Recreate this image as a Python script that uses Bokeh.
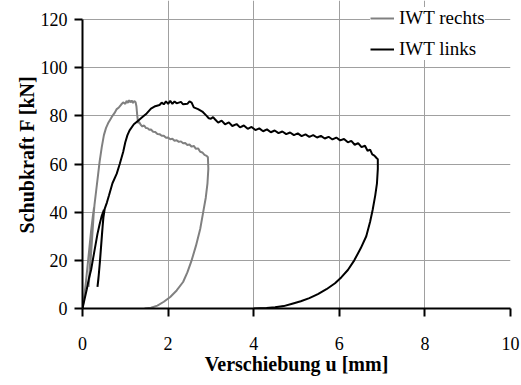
from bokeh.plotting import figure
from bokeh.models import Range1d, Legend, LegendItem, FixedTicker, Title
from bokeh.embed import file_html
from bokeh.resources import INLINE

# Shear test: force F [kN] over displacement u [mm], two specimens
rechts_u = [0.0, 0.04, 0.08, 0.12, 0.16, 0.2, 0.24, 0.27,
            0.25, 0.22, 0.19, 0.16, 0.14,
            0.16, 0.19, 0.22, 0.25, 0.28,
            0.32, 0.36, 0.4, 0.45, 0.5, 0.55, 0.6, 0.65, 0.7, 0.75, 0.8, 0.85, 0.9, 0.95,
            1.0, 1.03, 1.06, 1.09, 1.12, 1.15, 1.18, 1.21, 1.24, 1.26, 1.28, 1.3, 1.32,
            1.36, 1.4, 1.44, 1.48, 1.52, 1.56, 1.6, 1.65, 1.7, 1.75, 1.8, 1.85, 1.9, 1.95,
            2.0, 2.05, 2.1, 2.15, 2.2, 2.25, 2.3, 2.35, 2.4, 2.45, 2.5, 2.55, 2.6, 2.65,
            2.7, 2.75, 2.8, 2.85, 2.9, 2.93,
            2.94, 2.92, 2.88, 2.82, 2.75, 2.65, 2.55, 2.45, 2.35, 2.2, 2.05, 1.9, 1.75,
            1.6, 1.45]
rechts_f = [0.0, 5.0, 11.0, 18.0, 25.0, 32.0, 38.0, 42.0,
            36.0, 28.0, 20.0, 13.0, 9.0,
            14.0, 22.0, 30.0, 37.0, 43.0,
            49.0, 55.0, 61.0, 67.0, 72.0, 75.0, 77.0, 78.5, 80.0, 81.2, 82.8, 83.5, 84.6, 85.6,
            85.0, 86.2, 85.4, 86.5, 85.6, 86.4, 85.3, 86.2, 85.7, 84.0, 80.0, 77.0, 77.5,
            76.3, 75.6, 76.0, 75.0, 74.9, 74.2, 74.3, 73.4, 73.3, 72.5, 72.4, 71.7, 71.7, 70.9,
            71.0, 70.3, 70.5, 69.7, 69.9, 69.2, 69.4, 68.6, 68.7, 67.9, 68.1, 67.2, 67.5, 66.3,
            66.5, 65.1, 64.8, 63.8, 63.4, 62.8,
            58.0, 52.0, 46.0, 40.0, 33.0, 26.0, 20.0, 15.0, 11.0, 7.5, 4.8, 2.8, 1.2,
            0.3, 0.0]

links_u = [0.0, 0.05, 0.1, 0.15, 0.2, 0.25, 0.3, 0.35, 0.4, 0.45, 0.5,
           0.47, 0.44, 0.41, 0.38, 0.35,
           0.37, 0.4, 0.43, 0.46, 0.49, 0.52,
           0.57, 0.62, 0.7, 0.8, 0.87, 0.95, 1.0, 1.05, 1.1, 1.2, 1.3, 1.4, 1.5, 1.6,
           1.7, 1.8, 1.85, 1.9, 1.95, 2.0, 2.05, 2.1, 2.15, 2.2, 2.3, 2.35, 2.45, 2.5,
           2.55, 2.6, 2.7, 2.8, 2.9, 2.95, 3.0, 3.05, 3.1, 3.17, 3.25, 3.33, 3.42, 3.5,
           3.6, 3.68, 3.77, 3.86, 3.95, 4.04, 4.13, 4.22, 4.31, 4.4, 4.49, 4.58, 4.67,
           4.76, 4.85, 4.94, 5.03, 5.12, 5.21, 5.3, 5.39, 5.48, 5.57, 5.66, 5.75, 5.84,
           5.93, 6.02, 6.11, 6.2, 6.28, 6.36, 6.44, 6.52, 6.6, 6.66, 6.72, 6.77, 6.82,
           6.87, 6.9,
           6.9, 6.88, 6.84, 6.78, 6.72, 6.63, 6.5, 6.35, 6.2, 6.05, 5.9, 5.7, 5.5, 5.3,
           5.1, 4.9, 4.7, 4.5, 4.3, 4.0]
links_f = [0.0, 4.0, 8.0, 12.5, 16.0, 21.0, 26.0, 31.0, 35.0, 38.5, 41.0,
           34.0, 27.0, 20.0, 14.0, 9.0,
           12.0, 18.0, 25.0, 32.0, 38.0, 41.5,
           44.0, 47.0, 52.0, 56.0, 60.0, 65.0, 69.0, 72.0, 74.0, 76.5, 78.0, 79.5, 81.0, 83.0,
           84.0, 84.5, 85.5, 84.8, 86.0, 85.0, 86.2, 85.0, 86.0, 85.2, 85.8, 84.8, 85.0, 86.0,
           85.5, 83.5, 82.8, 81.8, 80.0, 79.0, 78.8, 79.5, 78.5, 77.2, 78.0, 76.5, 77.3, 75.8,
           76.6, 75.2, 76.0, 74.6, 75.4, 74.1, 74.8, 73.6, 74.4, 73.2, 73.9, 72.8, 73.5,
           72.4, 73.1, 72.0, 72.7, 71.6, 72.3, 71.3, 72.0, 71.0, 71.7, 70.6, 71.3, 70.2,
           71.0, 69.8, 70.4, 69.0, 69.6, 68.0, 68.7, 67.0, 67.6, 65.5, 66.0, 64.0, 63.5,
           62.5, 62.0,
           58.0, 52.0, 47.0, 41.0, 36.0, 30.0, 25.0, 20.0, 16.0, 13.0, 10.5, 8.0, 6.0, 4.3,
           3.0, 2.0, 1.0, 0.5, 0.2, 0.0]

x_ticks = [0, 2, 4, 6, 8, 10]
y_ticks = [0, 20, 40, 60, 80, 100, 120]
series_names = ["IWT rechts", "IWT links"]
series_colors = ["#808080", "#000000"]

FONT = "'Liberation Serif'"

# frame reaches up to the top edge so the legend can sit above the 120 line;
# the y axis and the vertical grid lines stop at 120
p = figure(width=521, height=385, output_backend="svg", toolbar_location=None,
           x_range=Range1d(0, 10), y_range=Range1d(0, 127.9),
           min_border_left=82, min_border_right=11, min_border_top=0, min_border_bottom=77)
p.background_fill_color = "white"
p.border_fill_color = "white"
p.outline_line_color = None

r1 = p.line(rechts_u, rechts_f, line_color=series_colors[0], line_width=2)
r2 = p.line(links_u, links_f, line_color=series_colors[1], line_width=2)

p.xaxis.ticker = FixedTicker(ticks=x_ticks)
p.yaxis.ticker = FixedTicker(ticks=y_ticks)
p.axis.axis_line_color = "black"
p.axis.axis_line_width = 2
p.axis.major_tick_line_color = "black"
p.axis.major_tick_line_width = 2
p.axis.major_tick_out = 8
p.axis.major_tick_in = 0
p.axis.minor_tick_line_color = None
p.axis.major_label_text_font = FONT
p.axis.major_label_text_font_size = "18px"
p.axis.major_label_text_color = "black"

p.yaxis.bounds = (0, 120)
p.xaxis.axis_label = "Verschiebung u [mm]"
p.xaxis.axis_label_text_font = FONT
p.xaxis.axis_label_text_font_size = "20px"
p.xaxis.axis_label_text_font_style = "bold"
p.xaxis.axis_label_text_color = "black"
p.xaxis.major_label_standoff = 20
p.yaxis.major_label_standoff = 7
p.xaxis.axis_label_standoff = 0

ytitle = Title(text="Schubkraft F [kN]", align="center", offset=-9,
               text_font=FONT, text_font_size="20px", text_font_style="bold",
               text_color="black", standoff=0)
p.add_layout(ytitle, "left")

p.xgrid.grid_line_color = "#a0a0a0"
p.ygrid.grid_line_color = "#a0a0a0"
p.xgrid.grid_line_width = 1
p.ygrid.grid_line_width = 1
p.xgrid.bounds = (0, 120)

legend = Legend(items=[LegendItem(label=series_names[0], renderers=[r1]),
                       LegendItem(label=series_names[1], renderers=[r2])],
                location=(288, 248), orientation="vertical",
                background_fill_color="white", background_fill_alpha=1.0,
                border_line_color=None, padding=4, margin=0, spacing=9,
                glyph_width=24, glyph_height=20, label_standoff=5,
                label_text_font=FONT, label_text_font_size="19px",
                label_text_color="black")
p.add_layout(legend, "center")

open("out.html", "w").write(file_html(p, INLINE))
